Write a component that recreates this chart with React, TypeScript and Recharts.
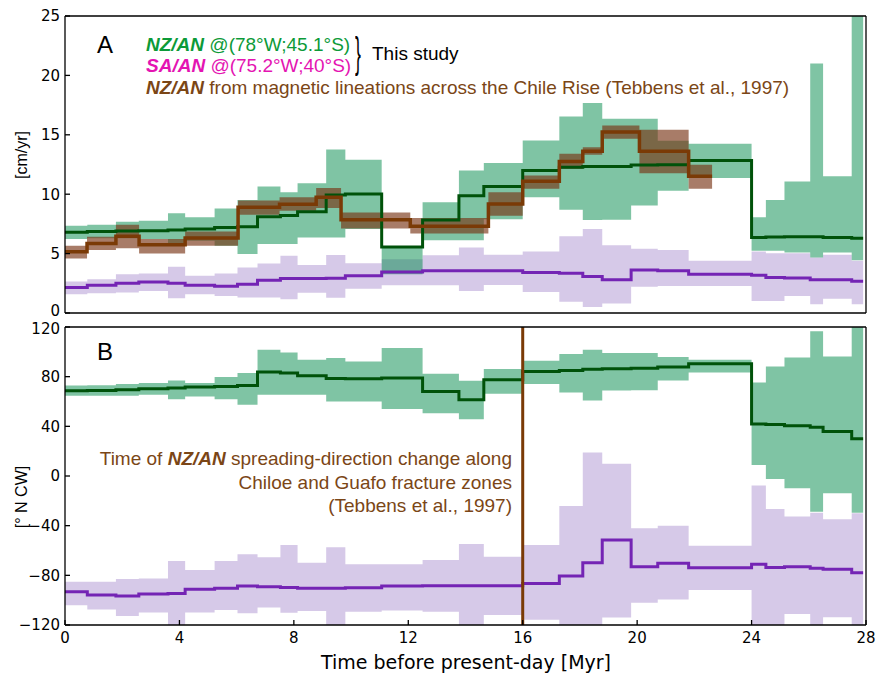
import React from 'react';
import { ComposedChart, Area, Line, XAxis, YAxis, ReferenceLine } from 'recharts';

// chron bin edges [Myr] shared by the NZ/AN and SA/AN estimates
const binEdges = [0, 0.78, 1.78, 2.58, 3.6, 4.2, 5.23, 6.03, 6.73, 7.53, 8.13, 9.13, 9.8, 11.07, 12.5, 13.77, 14.64, 16.0, 17.28, 18.1, 18.78, 19.79, 20.72, 21.8, 24.0, 24.5, 25.15, 26.05, 26.5, 27.5, 27.9];

// panel A: spreading rate [cm/yr]
const nzRate = [6.8, 6.85, 6.9, 6.93, 6.98, 7.07, 7.2, 7.25, 8.1, 8.2, 8.53, 9.94, 10.02, 5.55, 7.83, 9.88, 10.64, 11.99, 12.27, 12.33, 12.33, 12.45, 12.47, 12.84, 6.36, 6.4, 6.42, 6.42, 6.35, 6.3];
const nzRateHi = [7.35, 7.43, 7.68, 7.77, 8.39, 8.06, 8.79, 9.52, 10.65, 10.17, 10.93, 13.77, 12.9, 5.6, 9.32, 12.0, 12.62, 14.53, 16.55, 17.68, 16.36, 16.36, 14.5, 14.24, 8.05, 9.52, 11.06, 21.0, 11.51, 26];
const nzRateLo = [6.22, 6.3, 6.3, 6.22, 5.66, 6.08, 5.66, 4.96, 5.8, 5.8, 6.36, 6.36, 7.07, 3.27, 6.13, 6.13, 7.9, 9.74, 8.7, 7.83, 7.85, 9.04, 10.3, 11.37, 5.24, 5.24, 5.1, 4.67, 5.1, 4.45];

const saRate = [2.14, 2.33, 2.5, 2.61, 2.5, 2.33, 2.25, 2.42, 2.76, 2.9, 2.9, 2.93, 3.13, 3.46, 3.55, 3.55, 3.55, 3.41, 3.35, 3.07, 2.79, 3.63, 3.55, 3.27, 3.18, 2.99, 2.95, 2.8, 2.8, 2.67];
const saRateHi = [2.65, 2.85, 3.27, 3.32, 3.89, 3.13, 3.32, 3.83, 4.17, 4.82, 4.05, 4.89, 4.19, 4.52, 4.86, 5.52, 4.9, 5.18, 6.45, 7.07, 5.7, 5.4, 5.3, 4.39, 5.18, 5.04, 5.04, 4.67, 4.9, 4.39];
const saRateLo = [1.58, 1.67, 1.72, 1.86, 1.24, 1.58, 1.44, 1.3, 1.3, 1.16, 1.7, 1.29, 2.05, 2.33, 2.33, 1.85, 2.36, 1.77, 0.95, 0.5, 0.8, 2.2, 2.28, 2.28, 1.01, 1.01, 1.43, 0.74, 1.2, 0.74];

// Tebbens et al. (1997) magnetic lineations, own bins
const tebEdges = [0, 0.77, 1.78, 2.59, 4.2, 6.05, 7.5, 8.78, 9.65, 12.07, 14.8, 16.0, 17.28, 18.1, 18.78, 20.08, 21.8, 22.62];
const tebRate = [5.15, 5.85, 6.47, 5.74, 6.31, 8.9, 9.15, 9.74, 7.85, 7.3, 9.18, 11.09, 12.75, 13.62, 15.23, 13.62, 11.51];
const tebRateHi = [5.66, 6.42, 7.43, 6.22, 6.87, 9.46, 9.74, 10.53, 8.47, 8.0, 10.16, 11.57, 13.4, 13.96, 15.79, 15.43, 12.47];
const tebRateLo = [4.59, 5.3, 5.46, 5.01, 5.66, 8.28, 8.61, 8.84, 7.12, 6.7, 8.19, 10.45, 12.14, 13.32, 14.67, 11.77, 10.45];

// panel B: spreading direction [deg N CW]
const nzDir = [68.6, 68.9, 69.4, 70.2, 70.8, 71.6, 72.1, 72.9, 83.7, 82.9, 80.7, 78.6, 78.3, 79, 68.1, 61.4, 77.5, 84.2, 85, 86, 86.4, 86.8, 87.7, 90.4, 41.8, 41.5, 40.4, 39.3, 35.8, 29.9];
const nzDirHi = [72.9, 73, 74, 75, 76.9, 75, 79.7, 82.9, 101.7, 99.5, 93.6, 95, 92.3, 103, 82.3, 76.7, 86.1, 92.8, 98.2, 101.7, 99, 99, 95.8, 93.6, 75.3, 88.2, 95.5, 116.5, 96.3, 120];
const nzDirLo = [64.6, 64.6, 64.6, 65.4, 61.9, 64, 61.9, 57.3, 65.4, 65.4, 65.4, 60, 60, 53.9, 50.6, 45.8, 66.2, 74, 67.3, 60.8, 68.9, 69, 77, 83.4, 8.9, -2.5, -9.8, -28.7, -13.9, -29.5];

const saDir = [-93.2, -95.9, -96.7, -95.1, -94.6, -91.3, -90.5, -88.6, -89.2, -89.7, -90.5, -90.5, -90, -88.6, -88.3, -88.3, -88.3, -86.5, -80.6, -69.8, -51.5, -73, -70.3, -73.9, -71.1, -73.6, -73, -74.3, -75.2, -77.9];
const saDirHi = [-85.2, -85.2, -83, -82.5, -68.5, -75.7, -68.5, -63, -65.4, -55.6, -69.8, -57.4, -71.1, -71.1, -67.6, -54.8, -65, -55.6, -24.1, 18.9, 9.8, -42, -40, -56.1, -7.7, -26.5, -32.7, -29.5, -34.9, -30];
const saDirLo = [-104, -107.5, -112.8, -110, -120, -110, -107.9, -110.6, -106, -110.1, -108.7, -120, -109.4, -108.3, -109.4, -120, -112, -115.8, -120, -120, -114, -102, -99.4, -91.9, -120, -120, -111.2, -120, -113.7, -120];

const changeTime = 16;

const xTicks = [0, 4, 8, 12, 16, 20, 24, 28];
const rateTicks = [0, 5, 10, 15, 20, 25];
const dirTicks = [-120, -80, -40, 0, 40, 80, 120];

// step data: one row per edge, the last edge repeats the last bin's value
const stepRows = (edges: number[], mid: number[], lo: number[], hi: number[]) =>
  edges.map((t, i) => {
    const k = Math.min(i, mid.length - 1);
    return { t, mid: mid[k], band: [lo[k], hi[k]] };
  });

const nzRateRows = stepRows(binEdges, nzRate, nzRateLo, nzRateHi);
const saRateRows = stepRows(binEdges, saRate, saRateLo, saRateHi);
const tebRateRows = stepRows(tebEdges, tebRate, tebRateLo, tebRateHi);
const nzDirRows = stepRows(binEdges, nzDir, nzDirLo, nzDirHi);
const saDirRows = stepRows(binEdges, saDir, saDirLo, saDirHi);

const GREEN_FILL = '#00894a';
const GREEN_LINE = '#00520a';
const PURPLE_FILL = '#d6c9e8';
const PURPLE_LINE = '#7424b4';
const BROWN_FILL = '#773212';
const BROWN_LINE = '#7a3a06';
const BROWN_TEXT = '#7b4616';

const minus = (v: number) => (v < 0 ? '\u2212' + Math.abs(v) : String(v));
const tickStyle = { fontFamily: 'DejaVu Sans', fontSize: 15, fill: '#000' };
const lineStyle = { stroke: '#000', strokeWidth: 1.3 };
const helv = '"Liberation Sans", Arial, sans-serif';

// y tick label; the two labels meeting at the panel join are nudged apart a little
const yTick = (nudge: Record<number, number>) => (p: any) => (
  <text x={p.x} y={p.y + (nudge[p.payload.value] || 0)} dy="0.36em" textAnchor="end" style={tickStyle}>
    {minus(p.payload.value)}
  </text>
);

function frame(domain: number[], ticks: number[], xLabels: boolean, xHeight: number, nudge: Record<number, number>) {
  return [
    <XAxis key="xb" xAxisId="b" dataKey="t" type="number" domain={[0, 28]} ticks={xTicks} interval={0}
      orientation="bottom" height={xHeight} tickSize={-5} tickMargin={12} axisLine={lineStyle} tickLine={lineStyle}
      tick={xLabels ? tickStyle : false} allowDataOverflow />,
    <XAxis key="xt" xAxisId="t" dataKey="t" type="number" domain={[0, 28]} ticks={xTicks} interval={0}
      orientation="top" height={1} tickSize={-5} axisLine={lineStyle} tickLine={lineStyle} tick={false} allowDataOverflow />,
    <YAxis key="yl" yAxisId="l" type="number" domain={domain} ticks={ticks} interval={0} width={65}
      tickSize={-5} tickMargin={10} axisLine={lineStyle} tickLine={lineStyle} tick={yTick(nudge)}
      allowDataOverflow />,
    <YAxis key="yr" yAxisId="r" orientation="right" type="number" domain={domain} ticks={ticks} interval={0} width={1}
      tickSize={-5} axisLine={lineStyle} tickLine={lineStyle} tick={false} allowDataOverflow />,
  ];
}

const band = (rows: object[], fill: string, opacity: number, key: string) => (
  <Area key={key} xAxisId="b" yAxisId="l" data={rows} dataKey="band" type="stepAfter" stroke="none"
    fill={fill} fillOpacity={opacity} activeDot={false} isAnimationActive={false} />
);
const step = (rows: object[], color: string, width: number, key: string) => (
  <Line key={key} xAxisId="b" yAxisId="l" data={rows} dataKey="mid" type="stepAfter" stroke={color}
    strokeWidth={width} dot={false} activeDot={false} isAnimationActive={false} />
);

const abs = (left: number, top: number, extra: React.CSSProperties = {}): React.CSSProperties => ({
  position: 'absolute', left, top, whiteSpace: 'nowrap', ...extra,
});
const bi: React.CSSProperties = { fontWeight: 'bold', fontStyle: 'italic' };
const legendText = (top: number, color: string): React.CSSProperties =>
  abs(146, top, { fontFamily: helv, fontSize: 19, lineHeight: '22px', color });

export default function App() {
  return (
    <div style={{ position: 'absolute', left: 0, top: 0, width: 877, height: 674, background: '#fff' }}>
      {/* panel A svg runs a little below its frame so its "0" label is not clipped */}
      <div style={{ position: 'absolute', left: 0, top: 0 }}>
        <ComposedChart width={877} height={330} margin={{ top: 15, right: 10, bottom: 16, left: 0 }}>
          {frame([0, 25], rateTicks, false, 1, { 0: -2 })}
          {band(saRateRows, PURPLE_FILL, 1, 'sab')}
          {band(nzRateRows, GREEN_FILL, 0.5, 'nzb')}
          {band(tebRateRows, BROWN_FILL, 0.64, 'tebb')}
          {step(saRateRows, PURPLE_LINE, 3, 'sal')}
          {step(nzRateRows, GREEN_LINE, 3, 'nzl')}
          {step(tebRateRows, BROWN_LINE, 3.5, 'tebl')}
        </ComposedChart>
      </div>
      <div style={{ position: 'absolute', left: 0, top: 318 }}>
        <ComposedChart width={877} height={356} margin={{ top: 8, right: 10, bottom: 19, left: 0 }}>
          {frame([-120, 120], dirTicks, true, 30, { 120: 2 })}
          {band(saDirRows, PURPLE_FILL, 1, 'sab')}
          {band(nzDirRows, GREEN_FILL, 0.5, 'nzb')}
          {step(saDirRows, PURPLE_LINE, 3, 'sal')}
          {step(nzDirRows, GREEN_LINE, 3, 'nzl')}
          <ReferenceLine xAxisId="b" yAxisId="l" x={changeTime} stroke={BROWN_LINE} strokeWidth={3} />
        </ComposedChart>
      </div>

      {/* panel A labels and legend */}
      <div style={abs(97, 31, { fontFamily: helv, fontSize: 24 })}>A</div>
      <div style={legendText(34, '#0c9a38')}>
        <span style={bi}>NZ/AN</span> @(78°W;45.1°S)
      </div>
      <div style={legendText(55, '#e414b2')}>
        <span style={bi}>SA/AN</span> @(75.2°W;40°S)
      </div>
      <div style={legendText(77, BROWN_TEXT)}>
        <span style={bi}>NZ/AN</span> from magnetic lineations across the Chile Rise (Tebbens et al., 1997)
      </div>
      <div style={abs(355, 33, { fontFamily: helv, fontSize: 22, lineHeight: '22px', transform: 'scale(0.8, 1.9)', transformOrigin: 'top left' })}>{'}'}</div>
      <div style={abs(372, 43, { fontFamily: helv, fontSize: 19, lineHeight: '22px', color: '#000' })}>This study</div>

      {/* panel B labels */}
      <div style={abs(97, 338, { fontFamily: helv, fontSize: 24 })}>B</div>
      <div style={{ position: 'absolute', right: 365, top: 447, textAlign: 'right', fontFamily: helv, fontSize: 19, lineHeight: '23.5px', color: BROWN_TEXT, whiteSpace: 'nowrap' }}>
        <div>Time of <span style={bi}>NZ/AN</span> spreading-direction change along</div>
        <div>Chiloe and Guafo fracture zones</div>
        <div>(Tebbens et al., 1997)</div>
      </div>

      {/* axis titles */}
      <div style={abs(22, 155, { fontFamily: helv, fontSize: 16, transform: 'translate(-50%, -50%) rotate(-90deg)' })}>[cm/yr]</div>
      <div style={abs(22, 497, { fontFamily: helv, fontSize: 16, transform: 'translate(-50%, -50%) rotate(-90deg)' })}>[° N CW]</div>
      <div style={abs(466, 662, { fontFamily: 'DejaVu Sans', fontSize: 19, transform: 'translate(-50%, -50%)' })}>Time before present-day [Myr]</div>
    </div>
  );
}
